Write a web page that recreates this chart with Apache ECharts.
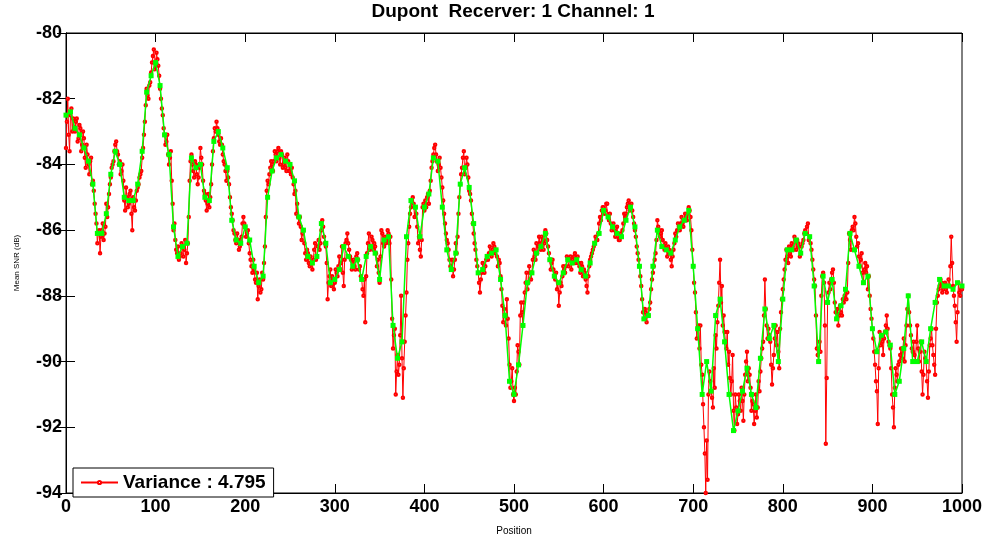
<!DOCTYPE html>
<html>
<head>
<meta charset="utf-8">
<title>Dupont Recerver: 1 Channel: 1</title>
<script src="https://cdn.jsdelivr.net/npm/echarts@6/dist/echarts.min.js"></script>
<style>
  html, body { margin: 0; padding: 0; background: #fff; }
  #chart { width: 987px; height: 541px; }
</style>
</head>
<body>
<div id="chart"></div>
<script>
// Per-position SNR samples at even positions 0, 2, ..., 1000
const snrEven = [
  -83.5,-82.0,-83.6,-82.3,-82.6, -83.0,-82.6,-83.2,-82.9,-83.4, -83.2,-84.1,-83.7,-84.3,-83.8, -84.5,-85.2,-85.8,-86.1,-86.7, -86.0,-86.3,-85.9,-85.6,-84.9, -84.4,-84.0,-83.6,-83.3,-83.7, -83.9,-84.2,-84.5,-85.4,-85.0, -85.2,-84.8,-86.0,-85.3,-85.1, -84.7,-84.4,-84.2,-83.5,-82.7, -81.7,-82.0,-81.5,-80.9,-80.5,
  -81.0,-80.8,-81.3,-82.0,-82.5, -83.1,-83.3,-83.7,-83.8,-84.5, -86.0,-86.3,-86.7,-86.9,-86.7, -86.5,-86.6,-87.0,-86.4,-84.5, -83.7,-84.2,-83.9,-84.3,-84.4, -83.5,-84.0,-84.8,-85.1,-85.2, -85.3,-84.6,-83.6,-82.9,-82.7, -83.1,-83.4,-83.4,-83.9,-84.2, -84.2,-84.6,-85.3,-85.7,-86.1, -86.4,-86.3,-86.5,-86.2,-85.6,
  -85.9,-86.1,-86.4,-86.9,-87.3, -87.2,-87.6,-88.1,-87.5,-87.8, -87.5,-86.5,-84.8,-84.6,-84.1, -84.0,-83.9,-83.7,-83.6,-83.8, -83.6,-84.1,-83.8,-84.2,-83.9, -84.0,-84.1,-84.6,-84.8,-85.2, -85.8,-85.9,-86.1,-86.4,-86.9, -86.7,-87.1,-87.0,-86.9,-86.4, -86.8,-86.3,-86.4,-85.7,-86.2, -86.5,-88.1,-87.4,-87.7,-87.5,
  -87.6,-87.3,-87.1,-87.2,-86.5, -87.7,-86.4,-86.1,-86.6,-86.9, -87.0,-87.1,-86.8,-86.9,-87.1, -87.5,-88.0,-88.8,-86.7,-86.1, -86.5,-86.3,-86.4,-86.7,-86.9, -87.6,-86.0,-86.4,-86.2,-86.3, -86.1,-86.2,-88.7,-89.2,-91.0, -89.8,-90.1,-88.0,-91.1,-89.4, -87.9,-86.4,-85.5,-85.1,-85.2, -85.3,-85.9,-86.2,-86.8,-85.3,
  -85.4,-85.3,-84.9,-84.8,-84.1, -83.7,-83.4,-83.9,-84.0,-84.1, -84.7,-85.5,-86.1,-86.4,-86.9, -87.2,-87.4,-86.9,-86.7,-85.5, -84.6,-84.1,-83.6,-84.1,-84.0, -84.8,-85.1,-85.8,-86.4,-86.9, -87.3,-87.9,-87.3,-87.2,-87.1, -86.8,-86.7,-86.7,-86.6,-86.5, -86.6,-87.1,-87.0,-87.8,-88.8, -88.6,-88.1,-89.3,-90.8,-90.2,
  -91.2,-91.0,-89.5,-90.1,-88.2, -88.9,-87.9,-87.3,-87.6,-87.3, -87.3,-86.6,-86.9,-86.7,-86.2, -86.6,-86.3,-86.4,-86.1,-86.5, -86.9,-87.0,-87.2,-87.5,-87.8, -88.3,-87.6,-87.4,-87.2,-87.1, -86.9,-86.9,-87.2,-87.0,-86.7, -86.9,-87.0,-87.3,-87.1,-87.2, -87.5,-87.9,-87.1,-86.8,-86.6, -86.4,-86.3,-86.1,-85.6,-85.4,
  -85.3,-85.4,-85.2,-85.7,-85.8, -85.9,-86.0,-86.1,-86.2,-86.3, -86.2,-85.8,-85.6,-85.3,-85.1, -85.3,-85.4,-85.8,-86.2,-86.7, -87.1,-87.7,-88.5,-88.4,-88.8, -88.6,-88.2,-87.5,-87.1,-86.7, -85.7,-86.0,-86.1,-86.3,-86.6, -86.6,-86.5,-86.7,-87.1,-86.6, -86.1,-86.0,-85.9,-85.8,-85.8, -85.7,-85.6,-85.5,-85.4,-86.0,
  -87.1,-87.9,-89.3,-88.9,-88.9, -90.4,-92.0,-94.0,-93.6,-90.3, -90.9,-91.4,-90.8,-89.6,-88.3, -86.9,-87.7,-88.6,-89.4,-89.1, -89.7,-91.0,-89.8,-92.1,-91.4, -91.6,-91.2,-90.8,-91.8,-90.4, -89.7,-90.2,-90.8,-91.2,-91.9, -91.0,-91.4,-90.9,-89.9,-89.4, -87.5,-88.9,-89.0,-89.4,-90.7, -89.8,-88.9,-89.1,-90.2,-88.5,
  -87.8,-87.2,-86.6,-87.0,-86.7, -86.4,-86.6,-86.3,-86.3,-86.5, -86.7,-86.4,-86.1,-86.1,-85.8, -86.2,-86.6,-87.2,-87.7,-89.6, -90.0,-89.7,-87.4,-87.6,-92.5, -88.2,-87.6,-87.5,-87.2,-88.2, -88.7,-88.9,-88.3,-88.6,-88.2, -87.8,-87.9,-86.1,-86.6,-85.9, -85.6,-86.2,-86.4,-87.1,-86.7, -87.6,-87.0,-87.1,-87.4,-88.4,
  -89.0,-89.7,-90.6,-91.9,-89.1, -89.2,-89.8,-89.1,-88.6,-89.4, -89.6,-91.0,-92.0,-90.2,-90.6, -90.0,-89.6,-89.6,-90.0,-88.9, -88.0,-88.9,-89.6,-89.4,-90.0, -88.9,-90.0,-89.4,-91.0,-89.7, -90.0,-91.1,-89.5,-89.0,-89.8, -90.4,-88.2,-87.8,-87.5,-87.9, -87.7,-87.8,-87.7,-87.7,-86.2, -87.7,-88.3,-89.4,-87.6,-88.0,
  -87.8
];

// Per-position SNR samples at odd positions 1, 3, ..., 999
const snrOdd = [
  -82.7,-83.1,-82.5,-83.0,-82.9, -82.7,-83.3,-82.8,-83.6,-83.0, -83.8,-83.4,-84.0,-83.9,-84.6, -84.8,-85.5,-86.4,-86.0,-86.2, -85.8,-86.1,-85.2,-85.3,-84.6, -84.1,-83.9,-83.4,-83.6,-84.0, -84.3,-84.0,-85.1,-84.7,-85.3, -84.9,-85.5,-85.0,-85.4,-84.8, -84.6,-84.3,-83.8,-83.1,-82.2, -81.9,-81.6,-81.2,-80.7,-81.1,
  -80.6,-81.0,-81.7,-82.3,-82.9, -83.4,-83.1,-84.0,-83.6,-85.2, -85.8,-86.6,-86.5,-86.8,-86.4, -86.8,-86.3,-86.7,-85.6,-83.9, -84.0,-84.4,-84.0,-84.6,-84.1, -83.8,-84.5,-84.9,-85.4,-84.9, -85.0,-84.0,-83.2,-83.0,-82.9, -83.3,-83.2,-83.7,-84.0,-84.5, -84.4,-85.0,-85.5,-86.0,-86.3, -86.1,-86.6,-86.3,-85.8,-85.8,
  -86.2,-86.0,-86.7,-87.1,-86.9, -87.5,-87.3,-87.7,-87.9,-87.3, -87.0,-85.6,-84.5,-84.3,-83.9, -84.2,-83.6,-83.9,-83.5,-84.0, -83.7,-84.0,-84.1,-83.7,-84.2, -84.3,-84.4,-84.9,-85.5,-85.6, -85.6,-86.3,-86.0,-86.7,-86.6, -87.0,-86.8,-87.2,-86.6,-86.9, -86.5,-86.6,-86.0,-85.9,-86.4, -87.0,-87.6,-87.2,-87.4,-87.8,
  -87.2,-87.4,-86.8,-87.0,-87.3, -86.9,-86.3,-86.4,-86.8,-87.2, -86.9,-87.2,-86.7,-87.2,-87.4, -87.8,-87.5,-87.4,-86.4,-86.6, -86.2,-86.6,-86.5,-87.1,-87.3, -86.8,-86.1,-86.5,-86.4,-86.0, -86.4,-87.5,-89.6,-89.0,-90.3, -90.4,-89.2,-89.9,-90.2,-88.6, -86.9,-85.9,-85.3,-85.0,-85.6, -85.5,-86.4,-86.6,-86.3,-85.2,
  -85.1,-85.0,-85.2,-84.5,-83.9, -83.5,-83.7,-84.2,-83.8,-84.4, -85.1,-85.8,-86.3,-86.6,-87.1, -86.9,-87.2,-86.4,-86.2,-85.0, -84.3,-83.8,-84.3,-83.8,-84.4, -84.9,-85.5,-86.1,-86.6,-87.1, -87.6,-87.5,-87.0,-87.3,-86.9, -86.9,-86.5,-86.8,-86.4,-86.7, -86.8,-86.9,-87.4,-88.3,-88.4, -88.9,-88.7,-90.1,-90.6,-91.0,
  -90.8,-90.3,-89.7,-88.6,-88.5, -88.2,-87.6,-87.8,-87.1,-87.5, -86.9,-86.8,-86.4,-86.5,-86.4, -86.2,-86.6,-86.0,-86.3,-86.7, -87.2,-86.9,-87.4,-87.3,-87.6, -87.9,-87.7,-87.1,-87.3,-86.8, -87.1,-86.8,-86.9,-86.8,-87.0, -86.8,-87.1,-87.0,-87.4,-87.3, -87.7,-87.4,-86.9,-86.7,-86.5, -86.2,-86.3,-85.8,-85.7,-85.3,
  -85.5,-85.2,-85.6,-85.5,-86.0, -85.8,-86.2,-85.9,-86.3,-86.1, -86.0,-85.5,-85.5,-85.2,-85.4, -85.2,-85.6,-86.0,-86.5,-86.9, -87.4,-88.1,-88.7,-88.5,-88.6, -88.4,-87.8,-87.3,-86.9,-86.3, -85.9,-86.2,-86.0,-86.5,-86.4, -86.8,-86.6,-86.9,-86.8,-86.4, -86.2,-85.8,-86.0,-85.6,-85.9, -85.5,-85.7,-85.3,-85.6,-86.6,
  -87.6,-88.5,-89.0,-89.6,-90.1, -91.3,-92.8,-92.4,-91.0,-90.6, -91.1,-90.2,-89.2,-88.8,-87.6, -88.2,-88.9,-89.1,-89.6,-90.1, -90.5,-90.6,-91.5,-91.0,-91.9, -91.0,-91.5,-91.2,-91.0,-90.0, -90.6,-90.4,-91.5,-91.3,-91.5, -91.7,-90.6,-90.3,-89.6,-88.6, -88.4,-89.3,-89.2,-90.1,-90.2, -89.3,-89.5,-89.7,-89.0,-88.1,
  -87.5,-86.9,-86.8,-86.5,-86.8, -86.5,-86.2,-86.6,-86.4,-86.8, -86.5,-86.3,-86.0,-85.9,-86.3, -86.4,-86.9,-87.5,-88.6,-89.8, -89.4,-88.0,-87.3,-88.9,-90.5, -87.9,-87.8,-87.3,-87.6,-88.5, -88.4,-88.6,-88.5,-88.1,-88.0, -88.1,-87.0,-86.3,-86.0,-86.0, -85.8,-86.5,-86.8,-86.9,-87.3, -87.2,-87.3,-87.8,-88.0,-88.7,
  -89.3,-90.1,-90.9,-90.2,-89.5, -89.4,-89.3,-88.9,-89.0,-89.5, -90.2,-91.4,-90.8,-90.4,-90.1, -89.8,-89.9,-89.3,-89.5,-88.4, -88.5,-89.2,-89.7,-89.8,-89.4, -89.6,-89.7,-90.3,-90.4,-89.9, -90.6,-90.3,-89.3,-89.5,-90.1, -89.0,-88.0,-87.7,-87.6,-87.8, -87.6,-87.9,-87.5,-87.1,-87.0, -88.0,-88.8,-88.5,-87.9,-87.8
];

// Averaged SNR trace, every 5 positions 0..1000
const meanStep = 5;
const snrMean = [
  -82.5,-82.4,-82.9,-83.1,-83.5,-83.9,-84.6,-86.1,-86.1,-85.5,-84.3,-83.6,-84.0,-85.0,-85.1,-85.1,-84.6,-83.6,-81.8,-81.3,
  -80.9,-81.6,-83.1,-83.7,-85.9,-86.8,-86.5,-86.4,-83.8,-84.1,-84.0,-85.0,-85.1,-83.3,-83.0,-83.5,-84.1,-85.7,-86.3,-86.4,
  -85.9,-86.3,-87.1,-87.6,-87.4,-85.0,-84.2,-83.8,-83.7,-83.9,-84.0,-84.5,-85.6,-86.0,-86.8,-87.0,-86.8,-85.8,-86.4,-87.6,
  -87.5,-87.2,-86.5,-86.8,-87.1,-86.9,-87.5,-86.8,-86.5,-86.7,-87.5,-86.3,-86.2,-88.9,-89.9,-89.4,-86.2,-85.1,-85.3,-86.2,
  -85.3,-84.9,-83.8,-83.9,-85.3,-86.6,-87.2,-86.7,-84.6,-84.1,-84.7,-85.8,-87.3,-87.2,-86.8,-86.7,-86.6,-87.5,-88.6,-90.6,
  -91.0,-90.1,-88.9,-87.6,-87.3,-86.7,-86.5,-86.1,-86.9,-87.4,-87.6,-87.3,-86.9,-87.0,-86.9,-87.2,-87.4,-87.0,-86.4,-86.1,
  -85.4,-85.6,-85.9,-86.1,-86.2,-85.7,-85.3,-85.9,-87.1,-88.7,-88.6,-87.1,-86.0,-86.5,-86.6,-86.7,-86.3,-85.9,-85.7,-85.4,
  -87.1,-89.0,-91.0,-90.0,-90.9,-88.6,-88.1,-89.4,-91.0,-92.1,-91.5,-90.9,-90.2,-91.0,-91.4,-89.9,-88.4,-89.3,-88.9,-90.0,
  -88.1,-86.6,-86.6,-86.3,-86.7,-86.1,-86.2,-87.7,-90.0,-87.4,-88.2,-87.5,-88.7,-88.3,-87.8,-86.1,-86.6,-87.1,-87.6,-87.4,
  -89.0,-89.7,-89.2,-89.1,-89.5,-91.0,-90.6,-89.6,-88.0,-90.0,-90.0,-89.4,-90.0,-89.0,-88.2,-87.5,-87.7,-87.7,-87.8,-87.6,
  -87.7
];

const legendLabel = 'Variance : 4.795';
const chartTitle = 'Dupont  Recerver: 1 Channel: 1';
const xAxisName = 'Position';
const yAxisName = 'Mean SNR (dB)';

const FONT = '"Liberation Sans", Arial, Helvetica, sans-serif';

// Interleave even/odd samples into [position, value] pairs
const rawPairs = [];
for (let p = 0; p <= 1000; p++) {
  const v = (p % 2 === 0) ? snrEven[p / 2] : snrOdd[(p - 1) / 2];
  rawPairs.push([p, v]);
}
const meanPairs = snrMean.map((v, i) => [i * meanStep, v]);

const chart = echarts.init(document.getElementById('chart'), null, { renderer: 'canvas' });

const tickLabel = { color: '#000', fontFamily: FONT, fontWeight: 'bold', fontSize: 18 };
const tickLine = { show: true, inside: true, length: 9, lineStyle: { color: '#000' } };
const axisLine = { show: true, lineStyle: { color: '#000', width: 1 } };

chart.setOption({
  animation: false,
  backgroundColor: '#fff',
  grid: {
    left: 66, right: 25, top: 33, bottom: 42,
    show: true, borderColor: '#000', borderWidth: 1, backgroundColor: '#fff'
  },
  graphic: [{
    type: 'text',
    x: 513, y: 12,
    style: {
      text: chartTitle,
      fill: '#000',
      font: 'bold 19px ' + FONT,
      textAlign: 'center',
      textVerticalAlign: 'middle'
    }
  }],
  legend: {
    data: [legendLabel],
    left: 73, top: 468,
    orient: 'horizontal',
    backgroundColor: '#fff',
    borderColor: '#000',
    borderWidth: 1,
    borderRadius: 0,
    padding: [5, 8, 5, 7],
    itemWidth: 37, itemHeight: 4, itemGap: 4,
    textStyle: { color: '#000', fontFamily: FONT, fontWeight: 'bold', fontSize: 19 }
  },
  xAxis: [{
    type: 'value', min: 0, max: 1000, interval: 100,
    name: xAxisName, nameLocation: 'middle', nameGap: 33,
    nameTextStyle: { color: '#000', fontFamily: FONT, fontSize: 10 },
    axisLine: axisLine, axisTick: tickLine,
    axisLabel: Object.assign({ margin: 5, formatter: v => String(v) }, tickLabel),
    splitLine: { show: false }
  }, {
    type: 'value', min: 0, max: 1000, interval: 100, position: 'top',
    axisLine: axisLine, axisTick: tickLine,
    axisLabel: { show: false },
    splitLine: { show: false }
  }],
  yAxis: [{
    type: 'value', min: -94, max: -80, interval: 2,
    name: yAxisName, nameLocation: 'middle', nameGap: 45, nameRotate: 90,
    nameTextStyle: { color: '#000', fontFamily: FONT, fontSize: 8 },
    axisLine: axisLine, axisTick: tickLine,
    axisLabel: Object.assign({ margin: 4 }, tickLabel),
    splitLine: { show: false }
  }, {
    type: 'value', min: -94, max: -80, interval: 2, position: 'right',
    axisLine: axisLine, axisTick: tickLine,
    axisLabel: { show: false },
    splitLine: { show: false }
  }],
  series: [{
    name: legendLabel,
    type: 'line',
    xAxisIndex: 0, yAxisIndex: 0,
    data: rawPairs,
    showSymbol: true,
    showAllSymbol: true,
    symbol: 'emptyCircle',
    symbolSize: 2.5,
    lineStyle: { color: '#ff0000', width: 1 },
    itemStyle: { color: '#ff0000', borderColor: '#ff0000', borderWidth: 0.8 },
    emphasis: { disabled: true },
    z: 2
  }, {
    name: 'mean',
    type: 'line',
    xAxisIndex: 0, yAxisIndex: 0,
    data: meanPairs,
    showSymbol: true,
    showAllSymbol: true,
    symbol: 'rect',
    symbolSize: 5,
    lineStyle: { color: '#00ff00', width: 1.5 },
    itemStyle: { color: '#00ff00' },
    emphasis: { disabled: true },
    z: 3
  }]
});
</script>
</body>
</html>
